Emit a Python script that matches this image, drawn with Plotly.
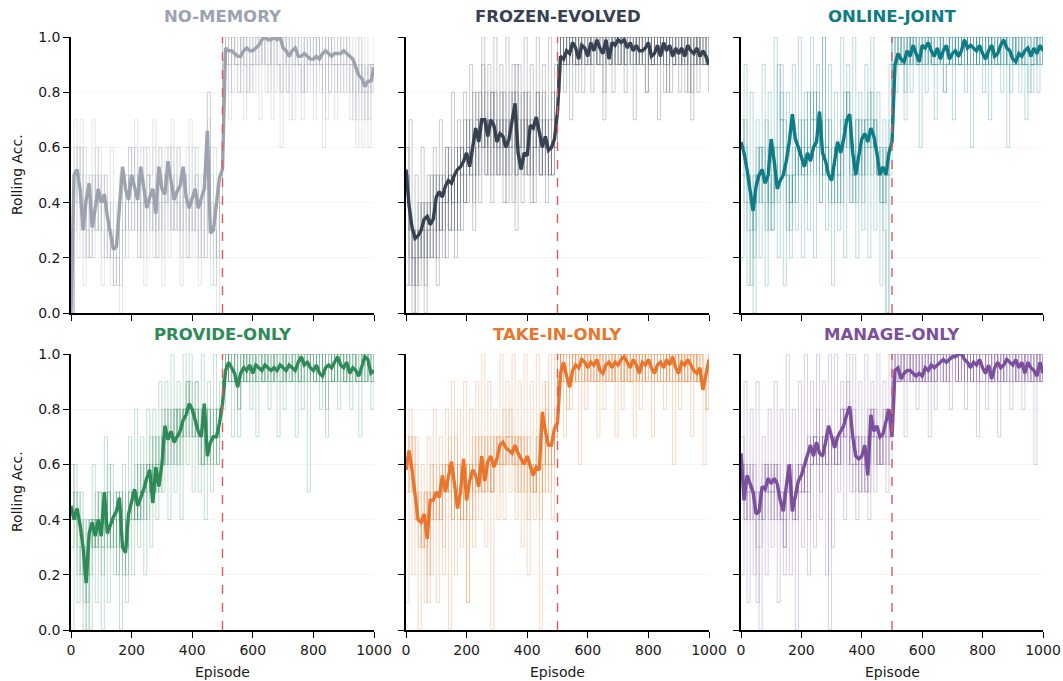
import plotly.graph_objects as go

EPISODES = list(range(0, 1001, 10))
SWITCH_EPISODE = 500
Y_TICKS = [0.0, 0.2, 0.4, 0.6, 0.8, 1.0]
X_TICKS = [0, 200, 400, 600, 800, 1000]
TITLES = ["NO-MEMORY", "FROZEN-EVOLVED", "ONLINE-JOINT", "PROVIDE-ONLY", "TAKE-IN-ONLY", "MANAGE-ONLY"]
COLORS = ["#9CA3AF", "#374151", "#0E7C86", "#2E8B57", "#E8762D", "#7B4F9E"]

# ---- smoothed mean rolling accuracy (episodes 0..1000 step 10) ----
NOMEM_MEAN = [0.00,0.50,0.52,0.45,0.30,0.41,0.47,0.31,0.38,0.45,
              0.40,0.43,0.35,0.29,0.23,0.24,0.40,0.53,0.45,0.41,
              0.50,0.45,0.41,0.53,0.45,0.38,0.42,0.45,0.36,0.53,
              0.45,0.43,0.55,0.47,0.41,0.44,0.46,0.53,0.42,0.38,
              0.42,0.45,0.38,0.42,0.45,0.66,0.29,0.30,0.39,0.49,
              0.52,0.96,0.95,0.95,0.94,0.93,0.93,0.95,0.96,0.95,
              0.95,0.96,0.97,0.99,1.00,0.99,0.99,1.00,0.99,1.00,
              0.96,0.95,0.93,0.95,0.96,0.93,0.93,0.94,0.93,0.92,
              0.92,0.93,0.92,0.94,0.95,0.94,0.93,0.94,0.94,0.94,
              0.95,0.94,0.93,0.92,0.89,0.86,0.85,0.82,0.84,0.84,
              0.89]
FROZEN_MEAN = [0.52,0.39,0.31,0.27,0.28,0.30,0.34,0.35,0.32,0.34,
               0.42,0.44,0.42,0.46,0.48,0.47,0.50,0.52,0.53,0.55,
               0.58,0.53,0.60,0.67,0.62,0.70,0.70,0.64,0.70,0.68,
               0.62,0.65,0.64,0.60,0.63,0.70,0.76,0.58,0.52,0.58,
               0.57,0.68,0.67,0.71,0.66,0.60,0.64,0.59,0.60,0.63,
               0.73,0.93,0.92,0.95,0.94,0.98,0.96,0.92,0.97,0.96,
               0.93,0.98,0.95,0.99,0.96,0.94,0.99,0.92,0.98,0.97,
               0.99,0.98,0.99,0.96,0.98,0.95,0.97,0.95,0.95,0.96,
               0.98,0.93,0.94,0.97,0.93,0.98,0.95,0.97,0.93,0.96,
               0.94,0.96,0.93,0.97,0.95,0.94,0.96,0.93,0.95,0.93,
               0.90]
ONLINE_MEAN = [0.62,0.58,0.52,0.45,0.37,0.46,0.50,0.52,0.47,0.50,
               0.63,0.55,0.45,0.48,0.50,0.55,0.62,0.72,0.63,0.60,
               0.56,0.53,0.58,0.55,0.60,0.62,0.73,0.58,0.55,0.50,
               0.48,0.55,0.62,0.58,0.63,0.70,0.72,0.58,0.50,0.57,
               0.63,0.65,0.62,0.67,0.64,0.58,0.50,0.53,0.50,0.58,
               0.62,0.90,0.94,0.92,0.91,0.95,0.93,0.97,0.94,0.91,
               0.97,0.96,0.98,0.95,0.93,0.96,0.92,0.95,0.97,0.92,
               0.94,0.95,0.93,0.95,0.99,0.96,0.97,0.96,0.95,0.97,
               0.94,0.92,0.95,0.97,0.93,0.94,0.97,0.99,0.96,0.95,
               0.92,0.91,0.94,0.93,0.95,0.96,0.93,0.96,0.94,0.97,
               0.95]
PROVIDE_MEAN = [0.45,0.40,0.44,0.38,0.30,0.17,0.35,0.39,0.34,0.40,
                0.34,0.50,0.35,0.38,0.41,0.43,0.48,0.30,0.28,0.42,
                0.46,0.51,0.45,0.48,0.51,0.55,0.58,0.46,0.59,0.52,
                0.60,0.74,0.69,0.72,0.68,0.70,0.72,0.76,0.78,0.82,
                0.80,0.76,0.72,0.70,0.82,0.63,0.68,0.70,0.70,0.75,
                0.82,0.94,0.97,0.95,0.93,0.88,0.93,0.95,0.94,0.96,
                0.93,0.96,0.95,0.94,0.96,0.95,0.94,0.95,0.94,0.96,
                0.95,0.94,0.96,0.95,0.94,0.97,0.99,0.96,0.97,0.95,
                0.94,0.96,0.93,0.92,0.95,0.96,0.95,0.97,0.99,0.96,
                0.95,0.97,0.93,0.95,0.94,0.92,0.96,0.99,0.98,0.93,
                0.94]
TAKEIN_MEAN = [0.58,0.65,0.58,0.50,0.40,0.39,0.42,0.33,0.47,0.47,
               0.50,0.48,0.56,0.50,0.55,0.61,0.53,0.44,0.50,0.62,
               0.47,0.54,0.58,0.56,0.52,0.63,0.54,0.61,0.63,0.59,
               0.62,0.67,0.68,0.66,0.65,0.64,0.67,0.64,0.62,0.60,
               0.63,0.59,0.56,0.59,0.58,0.79,0.72,0.67,0.67,0.73,
               0.75,0.93,0.97,0.92,0.88,0.94,0.96,0.95,0.98,0.97,
               0.95,0.97,0.96,0.98,0.94,0.93,0.96,0.97,0.95,0.97,
               0.96,0.98,0.99,0.97,0.95,0.98,0.96,0.93,0.97,0.96,
               0.98,0.95,0.93,0.96,0.97,0.95,0.98,0.96,0.99,0.95,
               0.93,0.97,0.96,0.98,0.96,0.94,0.93,0.95,0.87,0.92,
               0.98]
MANAGE_MEAN = [0.64,0.47,0.56,0.53,0.50,0.42,0.43,0.52,0.51,0.55,
               0.53,0.55,0.53,0.47,0.43,0.52,0.60,0.43,0.48,0.54,
               0.56,0.60,0.63,0.67,0.63,0.68,0.64,0.63,0.68,0.74,
               0.70,0.66,0.70,0.72,0.74,0.78,0.81,0.70,0.63,0.62,
               0.63,0.67,0.56,0.78,0.72,0.74,0.70,0.71,0.76,0.80,
               0.70,0.94,0.95,0.91,0.93,0.94,0.94,0.93,0.92,0.93,
               0.92,0.95,0.94,0.96,0.95,0.96,0.97,0.98,0.97,0.98,
               0.99,0.99,1.00,1.00,0.98,0.97,0.95,0.97,0.96,0.98,
               0.95,0.93,0.96,0.91,0.95,0.97,0.95,0.96,0.98,0.97,
               0.96,0.98,0.95,0.97,0.93,0.97,0.95,0.94,0.92,0.97,
               0.93]

# ---- individual seed rolling accuracy, in tenths (episodes 0..1000 step 10) ----
NOMEM_SEED1 = [0,5,4,3,6,2,4,3,5,4, 2,3,4,1,2,3,5,4,3,6, 4,3,5,2,4,6,3,4,2,5, 3,6,4,5,3,4,2,5,3,4, 6,3,2,4,5,7,3,2,3,5,
               9,10,9,8,10,9,9,10,8,9, 10,10,9,10,9,8,10,9,9,8, 10,9,7,9,10,9,8,9,10,9, 8,10,9,9,7,10,9,8,9,10, 9,8,9,7,8,9,6,8,9,8, 9]
NOMEM_SEED2 = [0,4,6,5,3,4,5,2,4,3, 5,4,2,3,1,2,4,3,5,4, 3,5,4,3,6,5,4,2,4,3, 5,4,6,3,5,4,3,4,5,2, 4,5,3,4,2,6,5,3,2,4,
               10,9,9,10,9,10,8,9,9,10, 9,10,10,9,10,10,9,9,10,8, 9,10,9,9,8,9,10,9,9,10, 9,9,10,8,9,10,9,9,8,9, 10,9,9,8,9,10,8,9,7,9, 8]
NOMEM_SEED3 = [0,3,5,4,2,3,4,5,3,5, 4,2,3,2,3,2,1,3,4,5, 6,4,3,5,4,2,5,6,3,4, 4,5,3,6,4,3,5,4,6,3, 4,2,4,3,5,8,4,3,2,4,
               9,9,8,10,9,9,10,9,8,9, 9,10,9,10,10,9,10,8,9,9, 10,9,9,10,9,10,9,8,9,9, 10,9,8,9,10,9,10,9,9,8, 9,10,9,9,7,9,8,8,9,9, 10]
NOMEM_SEED4 = [0,6,5,7,4,3,2,4,6,3, 4,5,3,4,2,1,3,2,5,3, 4,6,2,4,3,5,4,3,5,6, 2,4,5,3,4,6,3,5,2,4, 3,5,4,2,3,6,2,1,4,5,
               10,9,10,9,9,8,10,9,10,9, 8,9,10,10,9,9,10,10,9,9, 9,8,10,9,9,9,8,10,9,9, 9,10,9,10,9,8,9,9,10,9, 9,9,8,10,9,8,9,7,8,9, 9]
NOMEM_SEED5 = [0,7,2,6,1,5,2,7,3,6, 1,5,2,6,1,4,0,5,2,6, 3,7,2,6,1,5,3,7,2,6, 1,5,2,7,3,6,1,5,2,7, 3,6,1,5,2,8,1,6,0,5,
               8,10,7,10,9,8,10,7,10,8, 10,9,7,10,8,10,7,10,9,6, 10,8,10,7,10,9,7,10,8,10, 7,10,9,6,10,8,10,7,10,9, 8,10,7,9,6,10,7,10,6,9, 8]

FROZEN_SEED1 = [5,3,2,1,3,2,4,3,2,4, 3,5,4,6,3,5,4,6,5,7, 6,5,8,7,6,9,6,7,8,5, 7,6,8,5,7,6,9,7,6,8, 5,7,6,8,7,5,6,7,8,7,
                9,10,9,10,10,9,10,9,10,10, 9,10,10,9,10,9,10,10,9,10, 10,9,10,10,9,10,9,10,10,9, 10,9,10,10,9,10,9,10,9,10, 10,9,10,9,10,9,10,9,10,9, 9]
FROZEN_SEED2 = [6,2,1,3,2,4,3,2,5,3, 4,3,5,4,6,4,3,5,6,4, 5,7,6,5,7,6,8,6,5,7, 6,8,5,7,6,4,8,6,5,7, 6,4,7,6,5,6,7,5,6,8,
                9,9,8,10,9,10,9,10,9,9, 10,9,10,10,9,8,10,9,10,10, 9,10,9,9,10,10,9,10,9,8, 10,9,9,10,10,9,10,8,9,10, 9,10,9,10,8,9,10,9,9,10, 9]
FROZEN_SEED3 = [4,3,2,0,2,3,1,4,3,2, 5,3,4,2,5,4,6,3,5,4, 6,5,4,7,5,6,7,5,8,6, 5,7,6,4,6,8,5,6,7,5, 8,6,5,7,6,8,5,6,5,6,
                10,9,10,9,10,9,9,10,10,9, 10,9,9,10,10,10,9,9,10,9, 10,10,9,10,9,9,10,10,9,10, 9,10,9,9,10,8,9,10,10,9, 9,10,10,8,9,10,9,10,9,9, 8]
FROZEN_SEED4 = [5,1,3,2,4,3,2,3,4,5, 2,4,3,4,5,3,5,4,6,5, 7,6,5,6,8,7,5,7,6,8, 6,5,7,6,8,7,5,6,8,6, 7,5,6,8,5,7,6,5,7,6,
                9,10,9,9,10,10,8,9,10,9, 9,10,10,9,9,10,10,9,10,9, 9,10,9,10,10,9,10,9,10,10, 9,9,10,9,10,9,10,10,9,9, 10,9,8,10,9,10,9,10,10,9, 10]
FROZEN_SEED5 = [1,7,0,5,1,6,0,5,2,6, 1,7,2,6,3,8,2,7,3,8, 4,9,3,8,4,10,5,9,4,10, 5,9,4,10,5,9,3,9,4,10, 5,9,4,10,5,9,4,10,5,9,
                8,10,9,10,7,10,9,10,8,10, 10,8,10,9,10,7,10,10,8,10, 9,10,8,10,10,7,10,9,10,8, 10,9,10,7,10,10,8,10,9,10, 8,10,9,10,7,10,8,10,9,10, 8]

ONLINE_SEED1 = [6,5,4,3,5,4,6,5,7,4, 5,6,9,7,5,4,3,5,6,7, 5,6,8,7,5,6,4,10,6,5, 4,6,5,7,8,6,4,5,7,6, 4,7,8,6,7,5,6,4,5,6,
                9,10,9,9,10,9,10,10,9,9, 10,10,9,10,9,9,10,8,9,10, 9,10,9,9,10,9,10,10,9,10, 9,10,9,10,9,9,10,10,9,9, 10,9,9,10,9,9,8,9,10,9, 10]
ONLINE_SEED2 = [7,6,5,4,3,5,4,6,5,3, 4,5,6,8,7,5,4,6,5,6, 7,5,6,8,7,6,5,6,7,5, 6,5,4,6,7,8,6,5,4,6, 7,5,6,7,6,5,4,6,5,7,
                10,9,9,10,9,10,9,10,10,9, 9,10,10,9,10,10,9,9,10,9, 10,9,9,10,9,10,9,9,10,10, 9,9,10,9,10,9,10,9,10,10, 9,10,9,9,10,10,9,10,9,10, 9]
ONLINE_SEED3 = [5,4,3,1,4,6,5,4,3,5, 4,6,5,7,6,5,4,5,4,6, 5,4,6,7,8,6,7,5,6,4, 5,6,5,4,6,7,5,4,6,7, 5,6,7,8,6,5,4,3,0,5,
                9,9,10,9,8,10,9,10,9,10, 10,9,10,9,9,10,9,10,10,9, 9,10,9,10,10,9,9,10,9,10, 10,9,10,9,9,10,9,9,10,9, 10,9,10,9,9,8,9,10,9,9, 10]
ONLINE_SEED4 = [6,7,5,4,2,5,6,5,4,6, 3,5,4,6,5,3,5,4,6,5, 6,7,5,6,7,8,6,5,6,7, 5,4,6,5,7,8,6,5,7,5, 6,7,6,5,7,6,5,4,6,6,
                10,10,9,10,9,9,10,9,9,10, 9,9,10,10,9,9,10,9,9,10, 10,9,10,9,9,10,10,9,10,9, 9,10,9,10,10,9,9,10,9,8, 9,10,10,9,9,10,9,9,10,10, 9]
ONLINE_SEED5 = [2,9,1,8,0,7,2,9,1,8, 3,10,2,9,1,8,2,9,3,10, 2,8,3,10,2,9,4,10,3,9, 1,8,3,10,2,9,4,10,2,8, 3,9,2,10,3,8,1,7,0,9,
                10,8,10,9,7,10,8,10,9,6, 10,8,10,9,7,10,10,8,9,10, 7,10,9,10,8,10,6,10,9,10, 8,10,7,10,9,10,8,10,6,10, 9,10,8,10,7,10,9,10,8,10, 9]

PROVIDE_SEED1 = [4,5,3,2,4,1,3,4,3,5, 3,4,5,3,4,3,5,4,2,4, 5,4,6,5,4,6,5,7,6,5, 6,8,7,6,8,7,6,8,9,8, 7,8,6,7,8,6,7,8,7,8,
                 9,10,9,10,9,8,10,9,9,10, 9,9,10,9,9,10,9,10,9,9, 10,9,9,10,9,10,9,9,10,10, 9,10,9,9,8,9,10,9,10,9, 9,10,9,9,10,9,10,10,9,9, 10]
PROVIDE_SEED2 = [5,4,2,3,2,0,2,4,3,4, 2,3,5,4,3,4,3,5,3,4, 4,6,4,5,6,5,7,5,6,7, 6,7,8,7,6,8,7,8,7,9, 8,7,8,6,7,8,7,6,8,7,
                 10,9,10,9,10,9,9,10,9,10, 10,9,9,10,9,9,10,9,10,10, 9,10,9,9,10,9,10,10,9,10, 9,9,10,9,10,10,9,10,9,10, 9,9,10,10,9,10,9,9,10,10, 9]
PROVIDE_SEED3 = [3,4,5,4,3,2,4,3,5,4, 4,5,3,4,5,2,4,3,4,5, 4,5,4,6,5,4,6,5,7,6, 8,7,6,7,8,6,8,7,8,7, 8,9,7,8,6,7,8,7,6,8,
                 9,9,10,9,9,7,9,10,9,9, 10,9,9,9,10,9,9,10,9,9, 9,10,10,9,9,9,10,9,9,10, 10,9,9,10,9,9,9,10,9,9, 10,9,9,10,9,9,9,10,10,9, 9]
PROVIDE_SEED4 = [6,4,4,3,1,2,4,3,4,3, 3,4,6,3,4,5,4,2,3,5, 5,4,5,4,5,6,5,6,5,6, 7,6,7,8,7,8,7,8,9,8, 7,8,7,6,7,8,6,7,8,8,
                 10,10,9,9,10,9,10,9,10,9, 9,10,10,9,10,9,9,10,10,9, 10,9,9,10,10,9,9,10,10,9, 9,10,10,9,9,10,9,9,10,10, 9,10,9,10,9,9,10,9,10,9, 10]
PROVIDE_SEED5 = [0,6,1,5,0,4,0,6,1,5, 0,7,1,6,2,5,0,6,1,7, 2,8,3,7,2,8,3,8,4,9, 5,9,4,10,5,9,4,10,6,10, 5,9,5,10,4,9,5,10,6,9,
                 8,10,9,7,10,8,10,9,10,8, 10,7,10,9,10,8,10,9,7,10, 8,10,9,10,7,10,8,10,5,10, 9,10,8,10,7,10,9,10,8,10, 9,10,8,10,9,7,10,9,10,8, 10]

TAKEIN_SEED1 = [6,7,5,4,3,4,5,1,5,4, 5,6,5,6,5,6,7,5,4,5, 6,5,7,6,5,7,6,5,7,6, 7,6,8,7,6,7,6,5,7,6, 7,6,5,7,6,5,8,7,6,7,
                9,10,9,9,10,9,10,10,9,10, 9,10,10,9,10,9,10,10,9,10, 10,9,10,9,10,10,9,10,9,10, 10,9,9,10,10,9,10,9,10,10, 9,10,9,10,9,10,9,9,9,8, 10]
TAKEIN_SEED2 = [7,6,6,5,4,3,4,2,4,5, 4,5,2,5,6,4,5,6,5,4, 5,6,4,5,6,5,6,7,5,6, 6,7,6,7,7,6,5,7,6,5, 6,5,4,6,5,7,6,5,6,7,
                10,9,9,8,9,10,9,10,10,9, 10,9,9,10,9,10,9,9,10,9, 9,10,9,10,9,10,10,9,10,9, 9,10,10,9,9,10,9,10,9,9, 10,9,10,9,10,9,10,9,9,8, 9]
TAKEIN_SEED3 = [5,6,7,6,4,3,5,4,6,5, 5,4,6,5,7,5,6,4,5,6, 1,4,6,5,7,6,5,6,5,7, 6,5,7,6,7,6,7,6,5,7, 6,5,6,5,4,6,7,6,7,6,
                9,10,10,9,9,10,10,9,9,10, 10,10,9,9,10,10,9,10,10,9, 10,9,10,10,9,9,10,10,9,10, 10,10,9,9,10,10,9,10,10,9, 10,9,9,10,10,9,10,10,9,9, 10]
TAKEIN_SEED4 = [6,5,6,4,5,4,3,5,4,6, 5,4,5,6,5,4,5,6,4,6, 4,6,5,7,6,5,7,6,5,6, 7,6,6,7,8,7,6,7,6,6, 2,6,5,7,6,6,9,6,7,8,
                10,9,10,10,9,9,10,9,10,10, 9,10,9,10,10,9,9,10,9,10, 10,9,10,9,9,10,9,10,10,9, 10,9,10,10,9,9,10,10,9,10, 9,10,9,9,10,10,9,10,9,9, 10]
TAKEIN_SEED5 = [1,8,2,7,0,6,1,7,2,8, 1,7,3,8,0,9,2,8,3,9, 1,8,3,9,4,10,3,9,0,8, 4,10,4,9,5,10,4,9,3,10, 4,9,5,10,0,9,5,10,4,10,
                9,10,7,10,8,10,9,6,10,8, 10,9,10,7,10,8,10,9,10,7, 10,8,10,9,10,7,10,8,10,9, 10,7,10,9,10,8,10,9,6,10, 8,10,9,10,7,10,9,10,6,10, 9]

MANAGE_SEED1 = [6,5,4,5,6,1,3,5,6,5, 4,6,5,4,3,6,5,4,5,6, 5,6,7,6,7,6,5,7,6,7, 6,7,6,8,7,6,7,8,6,5, 6,7,6,8,7,6,7,8,7,6,
                9,10,9,9,10,9,10,9,9,10, 9,9,10,9,10,10,9,10,10,9, 10,10,9,10,10,9,10,9,10,9, 9,10,10,9,10,9,10,9,10,10, 9,10,9,9,10,10,9,10,9,10, 9]
MANAGE_SEED2 = [7,4,5,6,5,3,5,4,5,6, 5,4,6,5,4,5,6,5,4,5, 6,5,2,7,6,7,6,7,6,7, 7,6,7,6,8,7,6,5,6,7, 6,5,8,7,6,7,6,7,8,7,
                10,9,9,10,9,9,10,9,10,9, 10,9,9,10,9,10,10,10,9,10, 10,9,10,10,9,10,10,9,9,10, 10,9,9,10,9,10,9,10,9,9, 10,9,10,10,9,9,10,9,10,9, 10]
MANAGE_SEED3 = [5,6,5,4,5,5,4,6,5,4, 5,6,4,5,2,4,5,4,6,5, 5,6,5,6,7,6,7,6,7,6, 7,6,7,8,7,8,6,6,7,6, 7,6,5,7,8,7,6,7,6,7,
                9,9,10,9,10,10,9,9,10,9, 9,10,9,10,9,10,10,9,10,10, 10,9,10,9,10,10,9,10,10,9, 9,10,9,10,10,9,9,10,10,9, 9,10,10,9,10,9,9,10,9,10, 9]
MANAGE_SEED4 = [6,4,6,5,4,4,5,4,6,5, 6,5,5,4,5,5,6,5,4,6, 6,5,6,6,7,8,6,7,6,0, 7,6,6,7,8,9,7,6,7,5, 6,5,7,8,7,6,7,6,8,7,
                10,9,9,10,9,10,9,10,9,9, 10,9,10,9,9,10,9,10,9,10, 10,10,9,10,9,10,9,10,9,9, 10,10,9,9,10,9,10,9,9,10, 10,9,9,10,9,10,9,9,10,9, 10]
MANAGE_SEED5 = [2,9,1,8,2,9,0,7,2,8, 3,9,1,8,3,10,2,8,0,9, 3,10,4,9,3,10,4,9,2,10, 3,10,5,9,4,10,5,10,4,9, 5,10,4,9,5,10,6,9,5,10,
                8,10,9,10,7,10,9,10,8,10, 9,10,7,10,8,10,10,9,10,8, 10,9,10,10,8,10,9,10,7,10, 10,8,10,9,10,7,10,9,10,8, 10,9,10,8,10,9,10,6,10,9, 10]

PANELS = [
    (NOMEM_MEAN, [NOMEM_SEED1, NOMEM_SEED2, NOMEM_SEED3, NOMEM_SEED4, NOMEM_SEED5]),
    (FROZEN_MEAN, [FROZEN_SEED1, FROZEN_SEED2, FROZEN_SEED3, FROZEN_SEED4, FROZEN_SEED5]),
    (ONLINE_MEAN, [ONLINE_SEED1, ONLINE_SEED2, ONLINE_SEED3, ONLINE_SEED4, ONLINE_SEED5]),
    (PROVIDE_MEAN, [PROVIDE_SEED1, PROVIDE_SEED2, PROVIDE_SEED3, PROVIDE_SEED4, PROVIDE_SEED5]),
    (TAKEIN_MEAN, [TAKEIN_SEED1, TAKEIN_SEED2, TAKEIN_SEED3, TAKEIN_SEED4, TAKEIN_SEED5]),
    (MANAGE_MEAN, [MANAGE_SEED1, MANAGE_SEED2, MANAGE_SEED3, MANAGE_SEED4, MANAGE_SEED5]),
]

W, H = 1063, 681
X_DOMAINS = [(71 / W, 374 / W), (406 / W, 709 / W), (741 / W, 1043 / W)]
Y_DOMAINS = [(1 - 313 / H, 1 - 37 / H), (1 - 630 / H, 1 - 354 / H)]
FONT = "DejaVu Sans"
TXT = "#1a1a1a"


def hex_rgba(h, a):
    h = h.lstrip("#")
    return "rgba(%d,%d,%d,%.3f)" % (int(h[0:2], 16), int(h[2:4], 16), int(h[4:6], 16), a)


fig = go.Figure()
layout = dict(
    width=W, height=H, margin=dict(l=0, r=0, t=0, b=0, autoexpand=False),
    paper_bgcolor="white", plot_bgcolor="white", showlegend=False,
    font=dict(family=FONT, size=14, color=TXT),
)
annotations = []
shapes = []

for i, (mean, seeds) in enumerate(PANELS):
    row, col = divmod(i, 3)
    n = i + 1
    xa = "x" if n == 1 else "x%d" % n
    ya = "y" if n == 1 else "y%d" % n
    color = COLORS[i]
    for s in seeds:
        fig.add_trace(go.Scatter(
            x=EPISODES, y=[v / 10 for v in s], mode="lines", xaxis=xa, yaxis=ya,
            line=dict(color=hex_rgba(color, 0.3), width=0.9, shape="hv"),
            hoverinfo="skip"))
    fig.add_trace(go.Scatter(
        x=EPISODES, y=mean, mode="lines", xaxis=xa, yaxis=ya,
        line=dict(color=color, width=3.4)))

    xkey = "xaxis" if n == 1 else "xaxis%d" % n
    ykey = "yaxis" if n == 1 else "yaxis%d" % n
    layout[xkey] = dict(
        domain=X_DOMAINS[col], anchor=ya, range=[0, 1000], tickvals=X_TICKS,
        showticklabels=(row == 1), ticks="outside", ticklen=6, tickwidth=1.3,
        tickcolor="black", showline=True, linecolor="black", linewidth=1.5,
        showgrid=False, zeroline=False, automargin=False,
        tickfont=dict(size=14, color=TXT))
    layout[ykey] = dict(
        domain=Y_DOMAINS[row], anchor=xa, range=[0, 1.0], tickvals=Y_TICKS,
        ticktext=["%.1f" % t for t in Y_TICKS], showticklabels=(col == 0),
        ticks="outside", ticklen=6, tickwidth=1.3, tickcolor="black",
        showline=True, linecolor="black", linewidth=1.5, showgrid=True,
        gridcolor="rgba(0,0,0,0.035)", gridwidth=1, zeroline=False, automargin=False,
        tickfont=dict(size=14, color=TXT))

    xc = (X_DOMAINS[col][0] + X_DOMAINS[col][1]) / 2
    annotations.append(dict(
        text="<b>%s</b>" % TITLES[i], x=xc, y=Y_DOMAINS[row][1] + 20 / H,
        xref="paper", yref="paper", xanchor="center", yanchor="middle",
        showarrow=False, font=dict(family=FONT, size=16.5, color=color)))
    shapes.append(dict(
        type="line", xref=xa, yref="%s domain" % ya, x0=SWITCH_EPISODE, x1=SWITCH_EPISODE,
        y0=0, y1=1, line=dict(color="#E05A5A", width=1.4, dash="dash")))
    if row == 1:
        annotations.append(dict(
            text="Episode", x=xc, y=1 - 672 / H, xref="paper", yref="paper",
            xanchor="center", yanchor="middle", showarrow=False,
            font=dict(family=FONT, size=14, color=TXT)))
    if col == 0:
        annotations.append(dict(
            text="Rolling Acc.", x=17 / W, y=(Y_DOMAINS[row][0] + Y_DOMAINS[row][1]) / 2,
            xref="paper", yref="paper", xanchor="center", yanchor="middle",
            textangle=-90, showarrow=False,
            font=dict(family=FONT, size=14, color=TXT)))

layout["annotations"] = annotations
layout["shapes"] = shapes
fig.update_layout(**layout)
fig.write_html("out.html", config={"displayModeBar": False},
               post_script="document.body.style.margin='0';document.body.style.padding='0';"
                           "document.body.style.overflow='hidden';")
